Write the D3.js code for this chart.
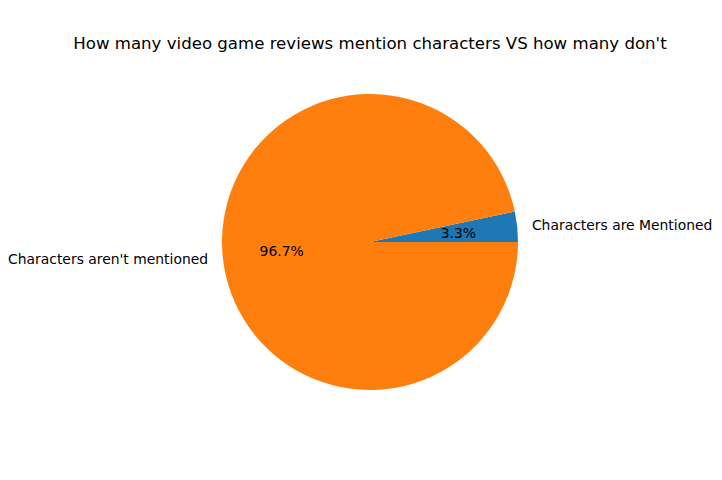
<!DOCTYPE html>
<html>
<head>
<meta charset="utf-8">
<script src="https://cdn.jsdelivr.net/npm/d3@7"></script>
<style>
  body { margin: 0; background: #fff; }
  text { font-family: "DejaVu Sans", sans-serif; fill: #000; }
</style>
</head>
<body>
<div id="chart"></div>
<script>
const labels = ["Characters are Mentioned", "Characters aren't mentioned"];
const shares = [3.3, 96.7];
const colors = ["#1f77b4", "#ff7f0e"];

const widthSvg = 722, heightSvg = 480;
const cx = 370, cy = 242, radius = 148;

const svg = d3.select("#chart").append("svg")
    .attr("width", widthSvg)
    .attr("height", heightSvg);

svg.append("text")
    .attr("x", cx)
    .attr("y", 43)
    .attr("text-anchor", "middle")
    .attr("dominant-baseline", "central")
    .style("font-size", "16.6px")
    .text("How many video game reviews mention characters VS how many don't");

// matplotlib style: start at 3 o'clock, go counterclockwise
const pie = d3.pie().sort(null)
    .startAngle(Math.PI / 2)
    .endAngle(Math.PI / 2 - 2 * Math.PI);

const arcs = pie(shares);
const arc = d3.arc().innerRadius(0).outerRadius(radius);

const g = svg.append("g").attr("transform", "translate(" + cx + "," + cy + ")");

g.selectAll("path")
    .data(arcs)
    .enter().append("path")
    .attr("d", arc)
    .attr("fill", function(d, i) { return colors[i]; });

function pos(d, r) {
  const a = (d.startAngle + d.endAngle) / 2;
  return [r * Math.sin(a), -r * Math.cos(a)];
}

g.selectAll(".lbl")
    .data(arcs)
    .enter().append("text")
    .attr("class", "lbl")
    .attr("x", function(d) { return pos(d, radius * 1.1)[0]; })
    .attr("y", function(d) { return pos(d, radius * 1.1)[1]; })
    .attr("text-anchor", function(d) { return pos(d, 1)[0] > 0 ? "start" : "end"; })
    .attr("dominant-baseline", "central")
    .style("font-size", "13.9px")
    .text(function(d, i) { return labels[i]; });

g.selectAll(".pct")
    .data(arcs)
    .enter().append("text")
    .attr("class", "pct")
    .attr("x", function(d) { return pos(d, radius * 0.6)[0]; })
    .attr("y", function(d) { return pos(d, radius * 0.6)[1]; })
    .attr("text-anchor", "middle")
    .attr("dominant-baseline", "central")
    .style("font-size", "13.9px")
    .text(function(d) { return d.data.toFixed(1) + "%"; });
</script>
</body>
</html>
